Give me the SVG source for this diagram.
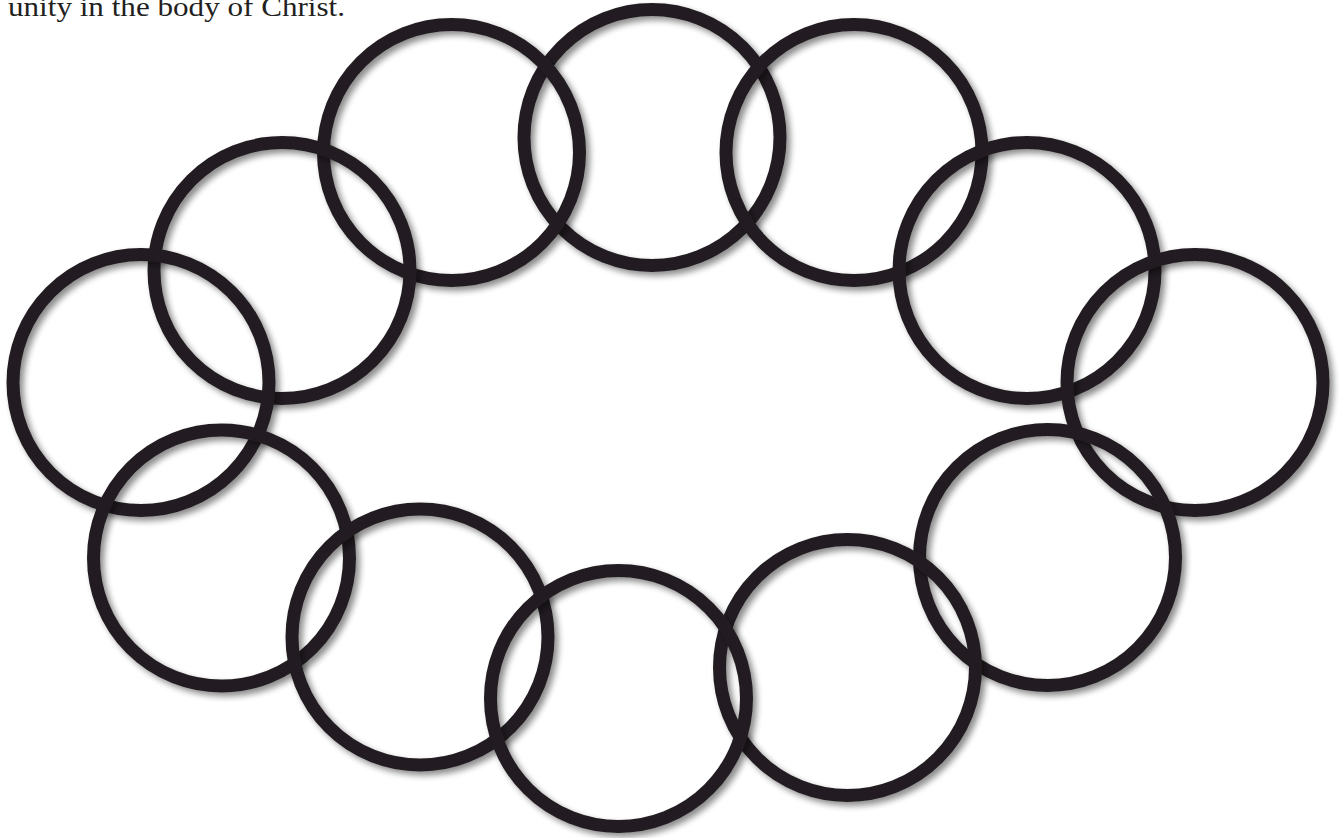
<svg xmlns="http://www.w3.org/2000/svg" width="1341" height="838" viewBox="0 0 1341 838">
<style>
.ring{fill:none;stroke:#231f20;stroke-width:13;filter:url(#sh)}
.cap{font-family:"Liberation Serif",serif;font-size:28px;fill:#231f20}
</style>
<defs>
<filter id="sh" x="-10%" y="-10%" width="125%" height="125%">
<feGaussianBlur in="SourceAlpha" stdDeviation="3"/>
<feOffset dx="4" dy="4" result="b"/>
<feComponentTransfer><feFuncA type="linear" slope="0.45"/></feComponentTransfer>
<feMerge><feMergeNode/><feMergeNode in="SourceGraphic"/></feMerge>
</filter>
</defs>
<rect width="1341" height="838" fill="#fff"/>
<text class="cap" x="8" y="16" textLength="337" lengthAdjust="spacingAndGlyphs">unity in the body of Christ.</text>
<g id="rings">
<g id="c1"><circle class="ring" cx="652" cy="137.5" r="128"/></g>
<g id="c2"><circle class="ring" cx="451.5" cy="152.5" r="128"/></g>
<g id="c3"><circle class="ring" cx="854" cy="152.5" r="128"/></g>
<g id="c4"><circle class="ring" cx="282" cy="270.5" r="128"/></g>
<g id="c5"><circle class="ring" cx="1027" cy="270.5" r="128"/></g>
<g id="c6"><circle class="ring" cx="141" cy="382.5" r="128"/></g>
<g id="c7"><circle class="ring" cx="1195" cy="382.5" r="128"/></g>
<g id="c8"><circle class="ring" cx="221.5" cy="558" r="128"/></g>
<g id="c9"><circle class="ring" cx="1047.5" cy="557.5" r="128"/></g>
<g id="c10"><circle class="ring" cx="420" cy="637" r="128"/></g>
<g id="c11"><circle class="ring" cx="847.5" cy="667.5" r="128"/></g>
<g id="c12"><circle class="ring" cx="618.5" cy="698.5" r="128"/></g>
</g>
<g id="connectors"/>
</svg>
